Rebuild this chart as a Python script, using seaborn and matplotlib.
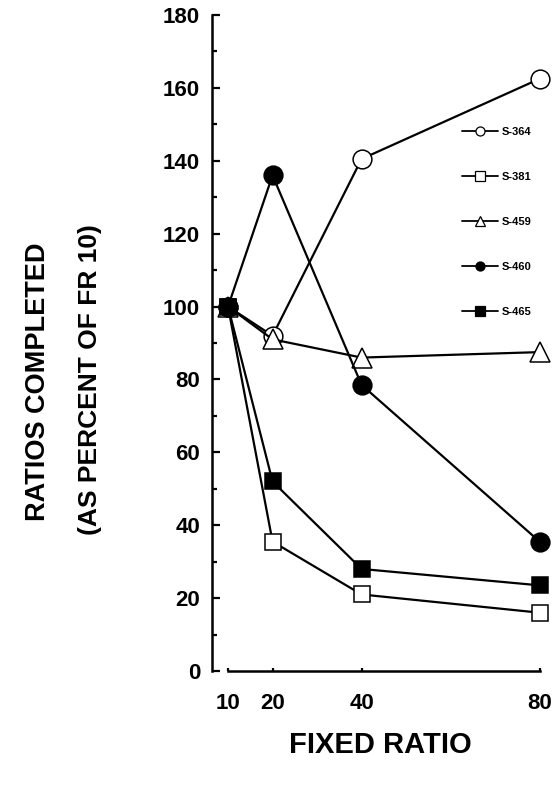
import matplotlib
matplotlib.use("Agg")
import matplotlib.pyplot as plt
from matplotlib.lines import Line2D
import seaborn as sns
import pandas as pd

fixed_ratio = [10, 20, 40, 80]
subjects = ["S-364", "S-381", "S-459", "S-460", "S-465"]
s364 = [100, 92, 140.5, 162.5]
s381 = [100, 35.5, 21, 16]
s459 = [100, 91, 86, 87.5]
s460 = [100, 136, 78.5, 35.5]
s465 = [100, 52, 28, 23.5]
values = [s364, s381, s459, s460, s465]
markers = ["o", "s", "^", "o", "s"]
fills = ["white", "white", "white", "black", "black"]
y_ticks = [0, 20, 40, 60, 80, 100, 120, 140, 160, 180]

sns.set_theme(style="white")
plt.rcParams["font.family"] = ["Liberation Sans", "DejaVu Sans"]
plt.rcParams["font.weight"] = "bold"
plt.rcParams["text.color"] = "black"
plt.rcParams["xtick.color"] = "black"
plt.rcParams["ytick.color"] = "black"
plt.rcParams["xtick.labelcolor"] = "black"
plt.rcParams["ytick.labelcolor"] = "black"

fig = plt.figure(figsize=(5.55, 7.86), dpi=100)
ax = fig.add_axes([212 / 555, 1 - 671 / 786, (553 - 212) / 555, (671 - 15) / 786])

for name, vals, m, fc in zip(subjects, values, markers, fills):
    df = pd.DataFrame({"x": fixed_ratio, "y": vals})
    sz = 13.5 if m == "o" else (12 if m == "s" else 14)
    sns.lineplot(data=df, x="x", y="y", ax=ax, color="black", linewidth=1.6,
                 marker=m, markersize=sz, markerfacecolor=fc,
                 markeredgecolor="black", markeredgewidth=1.1, clip_on=False)

ax.set_xlim(6.4, 83)
ax.set_ylim(0, 180)
ax.set_xticks(fixed_ratio)
ax.set_xticklabels([str(v) for v in fixed_ratio], fontsize=16, fontweight="bold", color="black")
ax.set_yticks(y_ticks)
ax.set_yticklabels([str(v) for v in y_ticks], fontsize=16, fontweight="bold", color="black")
ax.set_yticks(list(range(10, 180, 20)), minor=True)
ax.tick_params(axis="y", which="major", direction="in", length=6, width=1.6, pad=8.5, left=True,
               colors="black")
ax.tick_params(axis="y", which="minor", direction="in", length=3.6, width=1.6, left=True,
               colors="black")
ax.tick_params(axis="x", which="major", direction="in", length=2.5, width=1.6, pad=16, bottom=True,
               colors="black")
for s in ["top", "right"]:
    ax.spines[s].set_visible(False)
for s in ["left", "bottom"]:
    ax.spines[s].set_color("black")
    ax.spines[s].set_linewidth(1.8)
ax.spines["bottom"].set_bounds(10, 80)
ax.spines["left"].set_bounds(0, 180)
ax.set_xlabel("")
ax.set_ylabel("")
ax.grid(False)

handles = [Line2D([0], [0], color="black", linewidth=1.3, marker=m, markersize=6.5,
                  markerfacecolor=fc, markeredgecolor="black", markeredgewidth=0.9)
           for m, fc in zip(markers, fills)]
leg = ax.legend(handles, subjects, loc="upper left",
                bbox_to_anchor=((462 - 212) / 341, 1 - (127 - 15) / 656),
                frameon=False, fontsize=8, handlelength=3.2, handletextpad=0.4,
                labelspacing=3.15, borderaxespad=0, borderpad=0)
for t in leg.get_texts():
    t.set_fontweight("bold")
    t.set_color("black")

fig.text(38 / 555, 1 - 382 / 786, "RATIOS COMPLETED", rotation=90, ha="center", va="center",
         fontsize=19.5, fontweight="bold", color="black")
fig.text(90 / 555, 1 - 380 / 786, "(AS PERCENT OF FR 10)", rotation=90, ha="center", va="center",
         fontsize=19, fontweight="bold", color="black")
fig.text(380 / 555, 1 - 745 / 786, "FIXED RATIO", ha="center", va="center",
         fontsize=21, fontweight="bold", color="black")

fig.savefig("out.png", dpi=100)
